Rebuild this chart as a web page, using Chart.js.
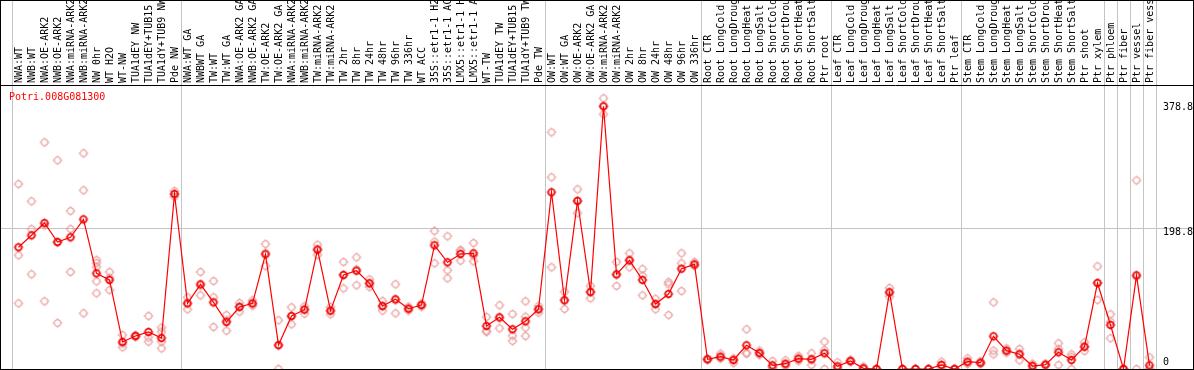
<!DOCTYPE html>
<html><head><meta charset="utf-8">
<script src="https://cdn.jsdelivr.net/npm/chart.js@4.4.1/dist/chart.umd.min.js"></script>
<style>
html,body{margin:0;padding:0;background:#fff;}
#wrap{position:relative;width:1194px;height:370px;overflow:hidden;}
#c{display:block;}
#title{position:absolute;left:9px;top:91px;font:10px/12px 'DejaVu Sans Mono',monospace;color:#f00;white-space:nowrap;}
</style></head><body>
<div id="wrap"><canvas id="c" width="1194" height="370"></canvas><div id="title">Potri.008G081300</div></div>
<script>
const categories = [
"NWA:WT","NWB:WT","NWA:OE-ARK2","NWB:OE-ARK2","NWA:miRNA-ARK2","NWB:miRNA-ARK2","NW 0hr","WT H2O","WT-NW","TUA1dEY NW","TUA1dEY+TUB15 NW","TUA1dY+TUB9 NW","Pde NW",
"NWA:WT GA","NWBWT GA","TW:WT","TW:WT GA","NWA:OE-ARK2 GA","NWB:OE-ARK2 GA","TW:OE-ARK2","TW:OE-ARK2 GA","NWA:miRNA-ARK2","NWB:miRNA-ARK2","TW:miRNA-ARK2","TW:miRNA-ARK2","TW 2hr","TW 8hr","TW 24hr","TW 48hr","TW 96hr","TW 336hr","WT ACC","35S::etr1-1 H2O","35S::etr1-1 ACC","LMX5::etr1-1 H2O","LMX5::etr1-1 ACC","WT-TW","TUA1dEY TW","TUA1dEY+TUB15 TW","TUA1dY+TUB9 TW","Pde TW",
"OW:WT","OW:WT GA","OW:OE-ARK2","OW:OE-ARK2 GA","OW:miRNA-ARK2","OW:miRNA-ARK2","OW 2hr","OW 8hr","OW 24hr","OW 48hr","OW 96hr","OW 336hr",
"Root CTR","Root LongCold","Root LongDrought","Root LongHeat","Root LongSalt","Root ShortCold","Root ShortDrought","Root ShortHeat","Root ShortSalt","Ptr root",
"Leaf CTR","Leaf LongCold","Leaf LongDrought","Leaf LongHeat","Leaf LongSalt","Leaf ShortCold","Leaf ShortDrought","Leaf ShortHeat","Leaf ShortSalt","Ptr leaf",
"Stem CTR","Stem LongCold","Stem LongDrought","Stem LongHeat","Stem LongSalt","Stem ShortCold","Stem ShortDrought","Stem ShortHeat","Stem ShortSalt","Ptr shoot","Ptr xylem","Ptr phloem","Ptr fiber","Ptr vessel","Ptr fiber vessel"
];

// index of the first category of each group (a grey separator is drawn before it)
const groupStarts = [0, 13, 41, 53, 63, 73, 84, 85, 86, 87];

const meanValues = [
172.0,188.9,206.3,179.5,186.1,211.5,135.2,125.8,38.2,46.6,52.3,43.8,247.3,
92.8,119.7,94.2,66.4,87.6,92.8,162.1,33.9,74.9,83.8,168.6,82.4,132.8,138.9,121.1,89.0,98.5,85.2,90.4,174.8,150.8,162.5,163.5,60.8,73.1,56.1,67.4,84.4,
249.7,97.1,237.4,108.8,371.2,133.8,153.6,125.8,91.8,106.0,141.7,147.9,
13.7,17.4,12.7,33.5,22.6,5.2,7.5,14.6,13.7,22.2,
3.8,11.3,1.0,0,108.4,0,0,0,5.7,0,
10.3,8.9,46.2,25.9,20.8,4.2,6.1,23.6,12.7,31.5,121.5,62.2,0,132.4,5.2
];

// individual replicate values per category
const replicateValues = [
[261.4,160.7,92.8],[237.0,197.8,133.8],[320.3,202.9,95.7],[294.9,178.6,65.0],[223.3,197.8,137.1],[304.8,252.5,78.7],
[154.0,149.8,144.1,123.9,107.0],[137.1,128.7,111.6],[48.0,35.9,30.7],[48.0,46.6,45.0],[74.9,44.8,38.6],[58.4,52.7,38.6,29.2],[251.5,247.0,243.5],
[101.3,92.8,84.4],[137.1,117.9,104.1],[124.3,101.3,59.3],[76.3,68.8,54.1],[93.3,88.5,81.0],[97.1,91.9,89.4],[176.6,164.2,145.5],[68.8,32.9,0],
[87.2,74.3,63.2],[88.6,84.7,78.1],[175.6,169.1,161.1],[87.6,82.3,77.3],[151.2,133.2,114.0],[157.8,140.6,118.3],[126.7,120.7,115.9],[96.1,88.5,82.4],
[119.7,97.1,78.7],[88.0,85.2,82.4],[92.8,90.4,88.0],[195.0,179.9,149.4],[187.5,139.5,128.2],[168.2,166.3,153.0],[178.0,160.3,152.2],[73.5,54.1,52.3],
[90.0,71.8,57.5],[77.7,47.1,39.6],[95.7,73.9,58.4,46.6],[89.0,84.6,79.6],
[334.5,270.9,143.7],[109.2,97.3,84.8],[253.9,237.9,220.4],[117.3,109.2,99.9],[382.5,371.2,359.9],[151.2,132.9,117.3],[163.5,153.6,143.7],
[141.3,131.8,104.1],[99.3,91.7,84.4],[122.9,119.7,76.3],[163.5,149.4,110.2],[151.2,147.0,145.5],
[14.4,13.7,13.0],[21.6,15.5,15.1],[15.1,12.7,8.5],[56.1,22.8,21.6],[25.9,22.1,19.8],[11.3,2.9,1.4],[12.3,6.0,4.2],[18.4,14.1,11.3],[22.2,13.2,5.7],[38.6,26.8,0],
[9.5,1.4,0.5],[13.1,10.9,9.9],[3.3,0,0],[0,0,0],[114.5,108.4,102.3],[0,0,0],[0,0,0],[0,0,0],[10.3,5.4,1.4],[0,0,0],
[15.1,8.7,7.1],[10.8,8.9,7.0],[94.2,25.9,20.8],[29.2,25.5,23.0],[28.3,21.8,12.3],[7.5,5.1,0],[7.2,6.1,5.0],[36.3,28.3,5.7],[20.8,17.3,0],[37.7,31.4,25.4],
[145.1,121.9,97.5],[77.3,66.8,43.4],[0,0,0],[266.6,130.6,0],[16.5,0,0]
];

const yTicks = [0, 198.8, 378.8];
const yTickLabels = ['0', '198.8', '378.8'];
const yMax = 401.3;

const GRID = '#c4c4c4';
const MONO = "'DejaVu Sans Mono', monospace";

function makeMarker(color, lw, r) {
  const c = document.createElement('canvas');
  c.width = 12; c.height = 12;
  const g = c.getContext('2d');
  g.strokeStyle = color; g.lineWidth = lw;
  g.beginPath(); g.arc(6, 6, r, 0, Math.PI * 2); g.stroke();
  g.lineWidth = 1;
  g.beginPath();
  g.moveTo(6, 6 - r - 1.6); g.lineTo(6, 6 - r);
  g.moveTo(6, 6 + r); g.lineTo(6, 6 + r + 1.6);
  g.moveTo(6 - r - 1.6, 6); g.lineTo(6 - r, 6);
  g.moveTo(6 + r, 6); g.lineTo(6 + r + 1.6, 6);
  g.stroke();
  return c;
}
const meanMarker = makeMarker('#f00000', 1.5, 3.2);
const repMarker = makeMarker('#e89696', 1.1, 3.2);

const maxReps = Math.max(...replicateValues.map(r => r.length));
const repDatasets = [];
for (let k = 0; k < maxReps; k++) {
  repDatasets.push({
    label: 'rep' + (k + 1),
    data: replicateValues.map(r => (k < r.length ? r[k] : null)),
    showLine: false,
    pointStyle: repMarker,
    pointRadius: 4,
    pointHoverRadius: 4,
    borderColor: '#e89696',
    backgroundColor: '#e89696'
  });
}

const tickY = {
  min: 0, max: yMax,
  afterBuildTicks: s => { s.ticks = yTicks.map(v => ({ value: v })); }
};

const framePlugin = {
  id: 'frame',
  afterDraw(chart) {
    const { ctx, chartArea } = chart;
    ctx.save();
    ctx.strokeStyle = '#000';
    ctx.lineWidth = 1;
    ctx.strokeRect(0.5, 0.5, chart.width - 1, chartArea.bottom);
    ctx.beginPath();
    ctx.moveTo(0, chartArea.top + 0.5);
    ctx.lineTo(chart.width, chartArea.top + 0.5);
    ctx.stroke();
    ctx.restore();
  }
};

new Chart(document.getElementById('c'), {
  type: 'line',
  data: {
    labels: categories,
    datasets: [{
      label: 'mean',
      data: meanValues,
      borderColor: '#ff0000',
      borderWidth: 1.2,
      pointStyle: meanMarker,
      pointRadius: 4,
      pointHoverRadius: 4,
      tension: 0,
      fill: false
    }].concat(repDatasets)
  },
  options: {
    responsive: false,
    animation: false,
    events: [],
    layout: { autoPadding: false, padding: { left: 0, right: 0, top: 0, bottom: 1 } },
    plugins: { legend: { display: false }, tooltip: { enabled: false }, title: { display: false } },
    scales: {
      x: {
        position: 'top',
        offset: true,
        grid: {
          offset: true,
          tickLength: 85,
          lineWidth: 1,
          color: ctx => (ctx.type === 'scale' || groupStarts.includes(ctx.index)) ? GRID : 'rgba(0,0,0,0)'
        },
        border: { display: false },
        ticks: {
          autoSkip: false, maxRotation: 90, minRotation: 90,
          padding: -83, labelOffset: 12.5,
          font: { family: MONO, size: 10 }, color: '#000'
        },
        afterFit: s => { s.height = 85; s.paddingLeft = 0; s.paddingRight = 0; }
      },
      y: Object.assign({}, tickY, {
        position: 'right',
        grid: {
          tickLength: 38,
          color: ctx => (ctx.tick && ctx.tick.value === 198.8) ? GRID : 'rgba(0,0,0,0)'
        },
        border: { display: false },
        ticks: {
          padding: -31,
          color: '#000',
          callback: (v, i) => (i === 0 ? [yTickLabels[i], ''] : ['', yTickLabels[i]]),
          font: ctx => ({ family: MONO, size: 10, lineHeight: ['14px', '7.4px', '13.4px'][ctx.index] || '12px' })
        },
        afterFit: s => { s.width = 38; s.paddingTop = 0; s.paddingBottom = 0; }
      }),
      yl: Object.assign({}, tickY, {
        position: 'left',
        grid: {
          drawOnChartArea: false,
          tickLength: 12,
          color: ctx => (ctx.tick && ctx.tick.value === 198.8) ? GRID : 'rgba(0,0,0,0)'
        },
        border: { display: false },
        ticks: { display: false },
        afterFit: s => { s.width = 12; s.paddingTop = 0; s.paddingBottom = 0; }
      })
    }
  },
  plugins: [framePlugin]
});
</script></body></html>
